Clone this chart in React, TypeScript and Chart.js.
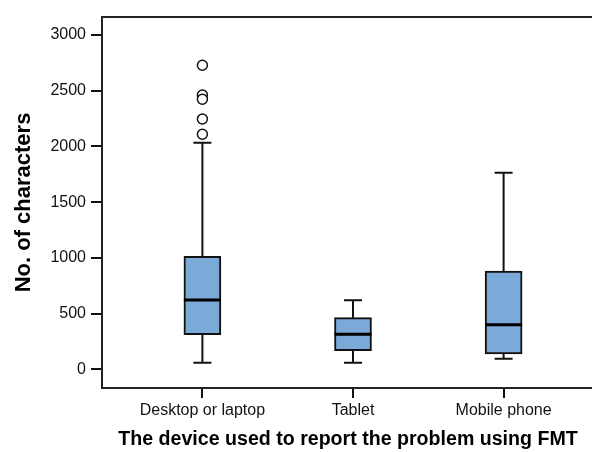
import React, { useEffect, useRef } from "react";
import { Chart, registerables } from "chart.js";

Chart.register(...registerables);

const categories = ["Desktop or laptop", "Tablet", "Mobile phone"];
const whiskerLow = [59, 59, 95];
const q1 = [311, 167, 137];
const median = [622, 314, 400];
const q3 = [1014, 463, 882];
const whiskerHigh = [2034, 619, 1765];
const outlierCategory = [1, 1, 1, 1, 1];
const outlierValues = [2729, 2462, 2424, 2247, 2110];
const yTicks = [0, 500, 1000, 1500, 2000, 2500, 3000];
const xTitle = "The device used to report the problem using FMT";
const yTitle = "No. of characters";

const FRAME = "#222222";

const boxPlugin = {
  id: "boxExtras",
  beforeDatasetsDraw(chart: any) {
    const { ctx, scales } = chart;
    const xs = scales.x;
    const ys = scales.y;
    ctx.save();
    ctx.strokeStyle = "#111111";
    ctx.lineWidth = 2;
    categories.forEach((_, i) => {
      const cx = xs.getPixelForValue(i + 1);
      const lo = ys.getPixelForValue(whiskerLow[i]);
      const hi = ys.getPixelForValue(whiskerHigh[i]);
      const b1 = ys.getPixelForValue(q1[i]);
      const b3 = ys.getPixelForValue(q3[i]);
      ctx.beginPath();
      ctx.moveTo(cx, lo);
      ctx.lineTo(cx, b1);
      ctx.moveTo(cx, b3);
      ctx.lineTo(cx, hi);
      ctx.moveTo(cx - 9, lo);
      ctx.lineTo(cx + 9, lo);
      ctx.moveTo(cx - 9, hi);
      ctx.lineTo(cx + 9, hi);
      ctx.stroke();
    });
    ctx.restore();
  },
  afterDatasetsDraw(chart: any) {
    const { ctx, scales, chartArea } = chart;
    const xs = scales.x;
    const ys = scales.y;
    ctx.save();
    ctx.strokeStyle = "#000000";
    ctx.lineWidth = 3;
    categories.forEach((_, i) => {
      const cx = xs.getPixelForValue(i + 1);
      const m = ys.getPixelForValue(median[i]);
      ctx.beginPath();
      ctx.moveTo(cx - 18.5, m);
      ctx.lineTo(cx + 18.5, m);
      ctx.stroke();
    });
    ctx.strokeStyle = FRAME;
    ctx.lineWidth = 2;
    ctx.beginPath();
    ctx.moveTo(chartArea.left - 1, chartArea.top);
    ctx.lineTo(chartArea.right + 2, chartArea.top);
    ctx.stroke();
    ctx.restore();
  },
  afterDraw(chart: any) {
    const { ctx, chartArea } = chart;
    ctx.save();
    ctx.fillStyle = "#000000";
    ctx.textAlign = "center";
    ctx.textBaseline = "middle";
    ctx.font = "bold 19.6px 'Liberation Sans', Arial, sans-serif";
    ctx.fillText(xTitle, 348, 440);
    ctx.translate(24, (chartArea.top + chartArea.bottom) / 2);
    ctx.rotate(-Math.PI / 2);
    ctx.font = "bold 22px 'Liberation Sans', Arial, sans-serif";
    ctx.fillText(yTitle, 0, 0);
    ctx.restore();
  },
};

export default function App() {
  const ref = useRef<HTMLCanvasElement | null>(null);
  useEffect(() => {
    if (!ref.current) return;
    const font = { family: "'Liberation Sans', Arial, sans-serif", size: 16 };
    const chart = new Chart(ref.current, {
      type: "bar",
      data: {
        datasets: [
          {
            type: "bar",
            data: categories.map((_, i) => ({ x: i + 1, y: [q1[i], q3[i]] })) as any,
            backgroundColor: "#7BA9D8",
            borderColor: "#111111",
            borderWidth: 2,
            borderSkipped: false,
            barThickness: 37,
            order: 2,
          } as any,
          {
            type: "scatter",
            data: outlierValues.map((v, i) => ({ x: outlierCategory[i], y: v })),
            pointRadius: 5,
            pointBorderWidth: 1.5,
            pointBackgroundColor: "#ffffff",
            pointBorderColor: "#111111",
            order: 1,
          } as any,
        ],
      },
      options: {
        responsive: false,
        animation: false,
        layout: { padding: { top: 17, left: 0, right: 8, bottom: 0 } },
        plugins: { legend: { display: false }, tooltip: { enabled: false } },
        scales: {
          x: {
            type: "linear",
            offset: false,
            min: 1 / 3,
            max: 11 / 3,
            afterBuildTicks: (s: any) => {
              s.ticks = categories.map((_, i) => ({ value: i + 1 }));
            },
            afterFit: (s: any) => {
              s.height = 64;
            },
            ticks: {
              callback: (v: any) => categories[Math.round(Number(v)) - 1] ?? "",
              font,
              color: "#111111",
              padding: 3,
              maxRotation: 0,
              autoSkip: false,
            },
            grid: { offset: false, drawOnChartArea: false, tickLength: 10, color: "#111111", lineWidth: 2 },
            border: { display: true, color: FRAME, width: 2 },
          },
          y: {
            type: "linear",
            min: -168,
            max: 3162,
            afterBuildTicks: (s: any) => {
              s.ticks = yTicks.map((v) => ({ value: v }));
            },
            afterFit: (s: any) => {
              s.width = 102;
            },
            ticks: { font, color: "#111111", padding: 5, callback: (v: any) => String(v) },
            grid: { drawOnChartArea: false, tickLength: 11, color: "#111111", lineWidth: 2 },
            border: { display: true, color: FRAME, width: 2 },
          },
        },
      },
      plugins: [boxPlugin],
    });
    return () => chart.destroy();
  }, []);
  return (
    <div style={{ position: "fixed", left: 0, top: 0, width: 592, height: 452, overflow: "hidden", background: "#fff" }}>
      <canvas ref={ref} width={612} height={452} />
    </div>
  );
}
